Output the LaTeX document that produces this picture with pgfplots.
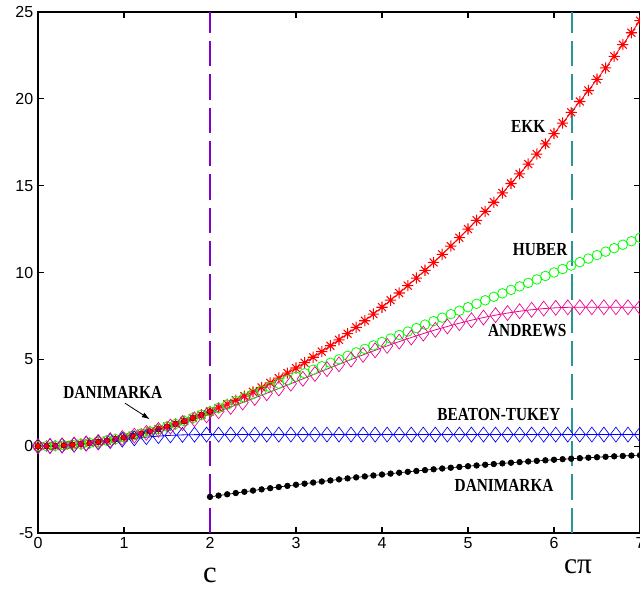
\documentclass[border=0pt]{standalone}
\usepackage{fontspec}
\setmainfont{Liberation Sans}
\newfontfamily\serif{Liberation Serif}
\usepackage{graphicx}
\usepackage{pgfplots}
\usepackage{pgfplotstable}
\pgfplotsset{compat=1.18}
\usetikzlibrary{arrows.meta}
\definecolor{violetline}{RGB}{128,0,200}
\definecolor{tealline}{RGB}{40,150,150}

% eight-armed star, as matlab draws '*'
\pgfdeclareplotmark{mstar}{%
  \pgfpathmoveto{\pgfqpoint{0pt}{\pgfplotmarksize}}%
  \pgfpathlineto{\pgfqpoint{0pt}{-\pgfplotmarksize}}%
  \pgfpathmoveto{\pgfqpoint{\pgfplotmarksize}{0pt}}%
  \pgfpathlineto{\pgfqpoint{-\pgfplotmarksize}{0pt}}%
  \pgfpathmoveto{\pgfqpoint{.707\pgfplotmarksize}{.707\pgfplotmarksize}}%
  \pgfpathlineto{\pgfqpoint{-.707\pgfplotmarksize}{-.707\pgfplotmarksize}}%
  \pgfpathmoveto{\pgfqpoint{-.707\pgfplotmarksize}{.707\pgfplotmarksize}}%
  \pgfpathlineto{\pgfqpoint{.707\pgfplotmarksize}{-.707\pgfplotmarksize}}%
  \pgfusepathqstroke}

% step 0.1: EKK and Huber
\pgfplotstableread{
x ekk huber
0.0 0 0
0.1 0.005 0.005
0.2 0.02 0.02
0.3 0.045 0.045
0.4 0.08 0.08
0.5 0.125 0.125
0.6 0.18 0.18
0.7 0.245 0.245
0.8 0.32 0.32
0.9 0.405 0.405
1.0 0.5 0.5
1.1 0.605 0.605
1.2 0.72 0.72
1.3 0.845 0.845
1.4 0.98 0.98
1.5 1.125 1.125
1.6 1.28 1.28
1.7 1.445 1.445
1.8 1.62 1.62
1.9 1.805 1.805
2.0 2.0 2.0
2.1 2.205 2.2
2.2 2.42 2.4
2.3 2.645 2.6
2.4 2.88 2.8
2.5 3.125 3.0
2.6 3.38 3.2
2.7 3.645 3.4
2.8 3.92 3.6
2.9 4.205 3.8
3.0 4.5 4.0
3.1 4.805 4.2
3.2 5.12 4.4
3.3 5.445 4.6
3.4 5.78 4.8
3.5 6.125 5.0
3.6 6.48 5.2
3.7 6.845 5.4
3.8 7.22 5.6
3.9 7.605 5.8
4.0 8.0 6.0
4.1 8.405 6.2
4.2 8.82 6.4
4.3 9.245 6.6
4.4 9.68 6.8
4.5 10.125 7.0
4.6 10.58 7.2
4.7 11.045 7.4
4.8 11.52 7.6
4.9 12.005 7.8
5.0 12.5 8.0
5.1 13.005 8.2
5.2 13.52 8.4
5.3 14.045 8.6
5.4 14.58 8.8
5.5 15.125 9.0
5.6 15.68 9.2
5.7 16.245 9.4
5.8 16.82 9.6
5.9 17.405 9.8
6.0 18.0 10.0
6.1 18.605 10.2
6.2 19.22 10.4
6.3 19.845 10.6
6.4 20.48 10.8
6.5 21.125 11.0
6.6 21.78 11.2
6.7 22.445 11.4
6.8 23.12 11.6
6.9 23.805 11.8
7.0 24.5 12.0
}\main

% step 0.14: Andrews and Beaton-Tukey
\pgfplotstableread{
x andrews tukey
0.00 0 0
0.14 0.0098 0.0098
0.28 0.0391 0.0384
0.42 0.0879 0.0844
0.56 0.1558 0.1448
0.70 0.2425 0.2162
0.84 0.3476 0.2942
0.98 0.4707 0.3741
1.12 0.6110 0.4511
1.26 0.7679 0.5204
1.40 0.9406 0.5782
1.54 1.1284 0.6217
1.68 1.3302 0.6497
1.82 1.5450 0.6633
1.96 1.7719 0.6666
2.10 2.0097 0.6667
2.24 2.2573 0.6667
2.38 2.5134 0.6667
2.52 2.7767 0.6667
2.66 3.0461 0.6667
2.80 3.3201 0.6667
2.94 3.5975 0.6667
3.08 3.8768 0.6667
3.22 4.1568 0.6667
3.36 4.4360 0.6667
3.50 4.7130 0.6667
3.64 4.9866 0.6667
3.78 5.2554 0.6667
3.92 5.5182 0.6667
4.06 5.7736 0.6667
4.20 6.0194 0.6667
4.34 6.2552 0.6667
4.48 6.4816 0.6667
4.62 6.6950 0.6667
4.76 6.8943 0.6667
4.90 7.0809 0.6667
5.04 7.2524 0.6667
5.18 7.4066 0.6667
5.32 7.5454 0.6667
5.46 7.6662 0.6667
5.60 7.7689 0.6667
5.74 7.8542 0.6667
5.88 7.9204 0.6667
6.02 7.9676 0.6667
6.16 7.9932 0.6667
6.30 8.0 0.6667
6.44 8.0 0.6667
6.58 8.0 0.6667
6.72 8.0 0.6667
6.86 8.0 0.6667
7.00 8.0 0.6667
}\second

% Danimarka beyond c
\pgfplotstableread{
x y
2.0 -2.920
2.1 -2.845
2.2 -2.772
2.3 -2.699
2.4 -2.628
2.5 -2.558
2.6 -2.488
2.7 -2.420
2.8 -2.353
2.9 -2.287
3.0 -2.222
3.1 -2.159
3.2 -2.096
3.3 -2.034
3.4 -1.974
3.5 -1.914
3.6 -1.856
3.7 -1.799
3.8 -1.743
3.9 -1.688
4.0 -1.634
4.1 -1.581
4.2 -1.529
4.3 -1.478
4.4 -1.429
4.5 -1.380
4.6 -1.333
4.7 -1.286
4.8 -1.241
4.9 -1.197
5.0 -1.154
5.1 -1.112
5.2 -1.071
5.3 -1.031
5.4 -0.992
5.5 -0.954
5.6 -0.918
5.7 -0.882
5.8 -0.848
5.9 -0.815
6.0 -0.782
6.1 -0.751
6.2 -0.721
6.3 -0.692
6.4 -0.664
6.5 -0.638
6.6 -0.612
6.7 -0.587
6.8 -0.564
6.9 -0.541
7.0 -0.520
}\dan

\newcommand{\lab}[1]{\scalebox{1}[1.2]{\fontsize{11.5}{12}\selectfont\serif\bfseries #1}}

\begin{document}
\begin{tikzpicture}
\useasboundingbox (-28.5pt,-44.25pt) rectangle (451.5pt,399.75pt);
\begin{axis}[
  scale only axis,
  width=451.5pt, height=390.75pt,
  xmin=0, xmax=7, ymin=-5, ymax=25,
  xtick={0,1,...,7}, ytick={-5,0,5,10,15,20,25},
  tick align=inside,
  major tick length=4.5pt,
  axis line style={line width=0.8pt},
  tick style={black, line width=0.8pt},
  tick label style={font=\fontsize{12}{14}\selectfont},
  /pgf/number format/assume math mode=true,
  clip=false,
]
  % Danimarka (black dots)
  \addplot[black, line width=0.5pt, mark=*, mark size=2.1pt,
    restrict x to domain=0:2] table[x=x, y=ekk]{\main};
  \addplot[black, line width=0.5pt, mark=*, mark size=2.1pt]
    table[x=x, y=y]{\dan};
  % EKK (red stars)
  \addplot[red, line width=0.6pt, mark=mstar, mark size=4.2pt,
    mark options={line width=0.8pt}] table[x=x, y=ekk]{\main};
  % Huber (green circles)
  \addplot[green, only marks, mark=o, mark size=3.6pt,
    mark options={line width=0.6pt}] table[x=x, y=huber]{\main};
  % Beaton-Tukey (blue diamonds)
  \addplot[blue, line width=0.6pt, mark=diamond, mark size=5.6pt,
    mark options={line width=0.5pt}] table[x=x, y=tukey]{\second};
  % Andrews (magenta diamonds)
  \addplot[magenta, line width=0.6pt, mark=diamond, mark size=5.6pt,
    mark options={line width=0.5pt}] table[x=x, y=andrews]{\second};

  % c and c*pi markers
  \draw[violetline, line width=1pt, dash pattern=on 19pt off 6pt]
    (axis cs:2,-5) -- (axis cs:2,25);
  \draw[tealline, line width=1pt, dash pattern=on 19pt off 6pt]
    (axis cs:6.21,-5) -- (axis cs:6.21,25);

  \node at (axis cs:5.70,18.42) {\lab{EKK}};
  \node at (axis cs:5.84,11.34) {\lab{HUBER}};
  \node at (axis cs:5.69,6.68) {\lab{ANDREWS}};
  \node at (axis cs:5.36,1.84) {\lab{BEATON-TUKEY}};
  \node at (axis cs:5.42,-2.25) {\lab{DANIMARKA}};
  \node at (axis cs:0.87,3.11) {\lab{DANIMARKA}};
  \draw[-{Latex[length=6pt,width=4pt]}, line width=0.6pt]
    (axis cs:1.01,2.48) -- (axis cs:1.30,1.55);

  \node at (axis cs:2,-7.43) {\fontsize{23}{23}\selectfont\serif c};
  \node at (axis cs:6.28,-6.97) {\fontsize{22}{22}\selectfont\serif cπ};
\end{axis}
\end{tikzpicture}
\end{document}
